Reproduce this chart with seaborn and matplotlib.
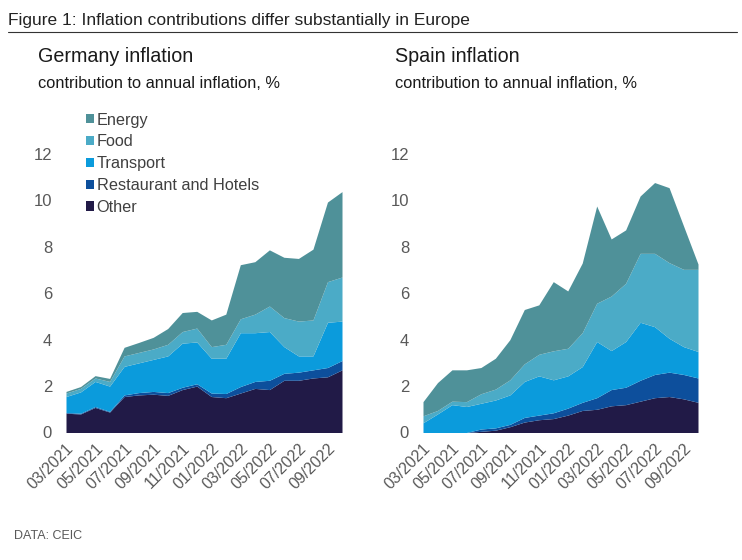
import numpy as np
import pandas as pd
import matplotlib
matplotlib.use("Agg")
import matplotlib.pyplot as plt
import seaborn as sns

months = ["03/2021", "04/2021", "05/2021", "06/2021", "07/2021", "08/2021", "09/2021",
          "10/2021", "11/2021", "12/2021", "01/2022", "02/2022", "03/2022", "04/2022",
          "05/2022", "06/2022", "07/2022", "08/2022", "09/2022", "10/2022"]
categories = ["Other", "Restaurant and Hotels", "Transport", "Food", "Energy"]

de_other = [0.83, 0.80, 1.08, 0.88, 1.55, 1.62, 1.65, 1.60, 1.85, 2.00, 1.55, 1.50, 1.70, 1.90, 1.85, 2.25, 2.25, 2.35, 2.40, 2.70]
de_rest = [0.03, 0.03, 0.04, 0.03, 0.07, 0.10, 0.12, 0.12, 0.10, 0.10, 0.15, 0.18, 0.28, 0.30, 0.40, 0.30, 0.35, 0.35, 0.40, 0.40]
de_transport = [0.69, 0.92, 1.08, 1.09, 1.23, 1.28, 1.38, 1.58, 1.90, 1.80, 1.50, 1.52, 2.32, 2.10, 2.10, 1.15, 0.70, 0.60, 1.95, 1.70]
de_food = [0.15, 0.15, 0.15, 0.20, 0.45, 0.45, 0.45, 0.50, 0.50, 0.60, 0.50, 0.60, 0.60, 0.80, 1.10, 1.25, 1.50, 1.55, 1.75, 1.90]
de_energy = [0.07, 0.08, 0.10, 0.13, 0.37, 0.43, 0.50, 0.68, 0.82, 0.72, 1.15, 1.30, 2.33, 2.26, 2.42, 2.60, 2.70, 3.05, 3.43, 3.68]

es_other = [0.00, 0.00, 0.00, 0.00, 0.05, 0.10, 0.25, 0.45, 0.55, 0.60, 0.75, 0.95, 1.00, 1.15, 1.20, 1.35, 1.50, 1.55, 1.45, 1.30]
es_rest = [0.00, 0.00, 0.00, 0.00, 0.10, 0.10, 0.10, 0.20, 0.20, 0.25, 0.30, 0.35, 0.50, 0.70, 0.75, 0.90, 1.00, 1.05, 1.05, 1.05]
es_transport = [0.42, 0.80, 1.20, 1.12, 1.11, 1.20, 1.27, 1.55, 1.69, 1.42, 1.39, 1.54, 2.42, 1.68, 1.97, 2.50, 2.06, 1.46, 1.20, 1.14]
es_food = [0.30, 0.15, 0.15, 0.21, 0.41, 0.47, 0.65, 0.76, 0.93, 1.25, 1.19, 1.46, 1.65, 2.35, 2.51, 2.97, 3.16, 3.26, 3.33, 3.54]
es_energy = [0.61, 1.20, 1.35, 1.37, 1.13, 1.33, 1.73, 2.34, 2.13, 2.98, 2.47, 3.00, 4.19, 2.46, 2.30, 2.47, 3.05, 3.23, 1.87, 0.23]

colors = ["#211a47", "#0d4f9c", "#0b9bdc", "#4babc7", "#4f9199"]

sns.set_theme(style="white")
plt.rcParams["font.family"] = ["Liberation Sans", "DejaVu Sans"]

fig = plt.figure(figsize=(7.42, 5.6), dpi=100)
W, H = 742, 560

def ax_rect(x0, x1, y_bottom, y_top):
    return [x0 / W, 1 - y_bottom / H, (x1 - x0) / W, (y_bottom - y_top) / H]

ax1 = fig.add_axes(ax_rect(66, 342, 432.5, 154))
ax2 = fig.add_axes(ax_rect(423, 698, 432.5, 154))

panels = [
    (ax1, [de_other, de_rest, de_transport, de_food, de_energy]),
    (ax2, [es_other, es_rest, es_transport, es_food, es_energy]),
]

x = np.arange(len(months))
for ax, series in panels:
    df = pd.DataFrame(dict(zip(categories, series)), index=x)
    ax.stackplot(df.index, *[df[c] for c in categories], colors=colors,
                 labels=categories, linewidth=0)
    ax.set_xlim(0, len(months) - 1)
    ax.set_ylim(0, 12)
    ax.set_yticks([0, 2, 4, 6, 8, 10, 12])
    ax.set_xticks(x[::2])
    ax.set_xticklabels(months[::2], rotation=45, ha="right", rotation_mode="anchor")
    ax.tick_params(axis="y", length=0, pad=10, labelsize=12, labelcolor="#595959")
    ax.tick_params(axis="x", length=0, pad=6, labelsize=11.5, labelcolor="#595959")
    sns.despine(ax=ax, left=True, bottom=True)
    ax.grid(False)

handles, labels = ax1.get_legend_handles_labels()
leg = ax1.legend(handles[::-1], labels[::-1], loc="upper left",
                 bbox_to_anchor=(86 / W, 1 - 112.5 / H), bbox_transform=fig.transFigure,
                 frameon=False, fontsize=11.7, handlelength=0.5, handleheight=0.5,
                 handletextpad=0.15, labelspacing=0.42, borderpad=0, borderaxespad=0)
for t in leg.get_texts():
    t.set_color("#404040")

fig.text(8 / W, 1 - 20 / H, "Figure 1: Inflation contributions differ substantially in Europe",
         fontsize=12.5, color="#222222", va="center", ha="left")
fig.add_artist(plt.Line2D([8 / W, 737 / W], [1 - 31.5 / H, 1 - 31.5 / H], color="#333333", linewidth=0.8))

fig.text(38 / W, 1 - 57 / H, "Germany inflation", fontsize=14.2, color="#1a1a1a", va="center")
fig.text(38 / W, 1 - 83 / H, "contribution to annual inflation, %", fontsize=11.8, color="#1a1a1a", va="center")
fig.text(395 / W, 1 - 57 / H, "Spain inflation", fontsize=14.2, color="#1a1a1a", va="center")
fig.text(395 / W, 1 - 83 / H, "contribution to annual inflation, %", fontsize=11.8, color="#1a1a1a", va="center")

fig.text(14 / W, 1 - 536 / H, "DATA: CEIC", fontsize=9, color="#595959", va="center")

fig.savefig("out.png", dpi=100)
